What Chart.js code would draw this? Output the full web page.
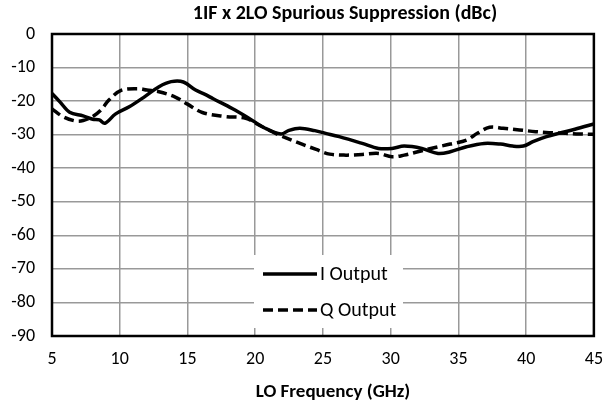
<!DOCTYPE html>
<html>
<head>
<meta charset="utf-8">
<script src="https://cdn.jsdelivr.net/npm/chart.js@4/dist/chart.umd.min.js"></script>
<style>
  html, body { margin: 0; padding: 0; background: #ffffff; }
  #wrap { width: 616px; height: 416px; }
</style>
</head>
<body>
<div id="wrap"><canvas id="c" width="616" height="416"></canvas></div>
<script>
// Labels
const chartTitle = '1IF x 2LO Spurious Suppression (dBc)';
const xAxisTitle = 'LO Frequency (GHz)';
const seriesNames = ['I Output', 'Q Output'];

// Tick values
const xTicks = [5, 10, 15, 20, 25, 30, 35, 40, 45];
const yTicks = [0, -10, -20, -30, -40, -50, -60, -70, -80, -90];

// I output: LO frequency (GHz) and suppression (dBc)
const iFreq  = [5.0, 5.6, 6.3, 7.3, 8.0, 8.5, 8.9, 9.7, 10.7, 11.9, 12.9, 13.8, 14.7, 15.6, 16.3, 16.9,
                18.3, 19.5, 20.7, 21.9, 22.5, 23.3, 24.4, 25.2, 26.2, 27.9, 29.1, 30.1, 31.0, 32.3,
                33.5, 34.4, 35.6, 36.9, 38.1, 39.0, 39.8, 40.5, 41.5, 42.4, 43.6, 45.0];
const iLevel = [-17.7, -20.3, -23.3, -24.4, -25.4, -25.6, -26.6, -23.8, -21.7, -18.5, -15.7, -14.2, -14.3, -16.7, -18.0, -19.3,
                -22.2, -25.0, -28.0, -29.8, -28.7, -28.1, -28.8, -29.6, -30.6, -32.6, -34.1, -34.1, -33.4, -34.1,
                -35.6, -35.1, -33.6, -32.6, -32.8, -33.4, -33.4, -32.1, -30.6, -29.6, -28.4, -26.8];

// Q output: LO frequency (GHz) and suppression (dBc)
const qFreq  = [5.0, 5.8, 6.7, 7.3, 8.0, 8.6, 9.2, 10.1, 11.4, 12.0, 12.9, 14.1, 15.0, 16.1, 17.8, 19.3,
                20.3, 21.5, 22.5, 23.5, 24.5, 25.5, 26.7, 27.9, 29.1, 30.1, 31.0, 32.0, 33.2, 34.4,
                35.6, 36.4, 37.3, 38.3, 39.5, 40.7, 41.7, 42.9, 43.9, 45.0];
const qLevel = [-22.3, -24.6, -25.9, -25.8, -24.6, -22.7, -19.7, -16.8, -16.3, -16.7, -17.2, -18.8, -20.9, -23.4, -24.6, -25.1,
                -27.2, -29.6, -31.3, -32.9, -34.4, -35.8, -36.1, -35.9, -35.6, -36.6, -36.1, -35.1, -33.9, -32.8,
                -31.6, -29.6, -27.8, -28.1, -28.6, -29.1, -29.4, -29.6, -29.8, -29.9];

const FONT = 'Carlito, Lato, "Liberation Sans", sans-serif';

function toPoints(xs, ys) {
  return xs.map((x, i) => ({ x: x, y: ys[i] }));
}

// Title text, axis title, plot frame and in-plot legend
const decorations = {
  id: 'decorations',
  beforeDatasetsDraw(chart) {
    const ctx = chart.ctx;
    ctx.save();
    // legend box sits inside the plot, over the grid
    const bx = 254, by = 255, bw = 149, bh = 73;
    ctx.fillStyle = '#ffffff';
    ctx.fillRect(bx, by, bw, bh);
    chart.data.datasets.forEach((ds, i) => {
      const y = by + 19 + i * 36;
      ctx.strokeStyle = ds.borderColor;
      ctx.lineWidth = ds.borderWidth;
      ctx.setLineDash(ds.borderDash || []);
      ctx.lineCap = 'butt';
      ctx.beginPath();
      ctx.moveTo(bx + 9, y);
      ctx.lineTo(bx + 63, y);
      ctx.stroke();
      ctx.setLineDash([]);
      ctx.fillStyle = '#000000';
      ctx.font = '20px ' + FONT;
      ctx.textAlign = 'left';
      ctx.textBaseline = 'middle';
      ctx.fillText(ds.label, bx + 66, y + 1);
    });
    ctx.restore();
  },
  afterDatasetsDraw(chart) {
    const ctx = chart.ctx;
    const a = chart.chartArea;
    ctx.save();
    ctx.strokeStyle = '#000000';
    ctx.lineWidth = 2.5;
    ctx.strokeRect(a.left, a.top, a.right - a.left, a.bottom - a.top);
    ctx.fillStyle = '#000000';
    ctx.textAlign = 'center';
    ctx.textBaseline = 'middle';
    ctx.font = 'bold 20px ' + FONT;
    ctx.fillText(chartTitle, 345, 14);
    ctx.font = 'bold 19px ' + FONT;
    ctx.fillText(xAxisTitle, 333, 392);
    ctx.restore();
  }
};

new Chart(document.getElementById('c'), {
  type: 'line',
  data: {
    datasets: [
      {
        label: seriesNames[0],
        data: toPoints(iFreq, iLevel),
        borderColor: '#000000',
        borderWidth: 3.5,
        pointRadius: 0,
        tension: 0.35,
        fill: false
      },
      {
        label: seriesNames[1],
        data: toPoints(qFreq, qLevel),
        borderColor: '#000000',
        borderWidth: 3.5,
        borderDash: [10, 5],
        pointRadius: 0,
        tension: 0.35,
        fill: false
      }
    ]
  },
  options: {
    responsive: false,
    animation: false,
    devicePixelRatio: 1,
    layout: { padding: { top: 34, right: 14, bottom: 0, left: 0 } },
    plugins: {
      legend: { display: false },
      title: { display: false },
      tooltip: { enabled: false }
    },
    scales: {
      x: {
        type: 'linear',
        min: 5,
        max: 45,
        afterBuildTicks(scale) { scale.ticks = xTicks.map(v => ({ value: v })); },
        afterFit(scale) { scale.height = 80; },
        grid: { color: '#999999', lineWidth: 1.5, drawTicks: false },
        border: { display: false },
        ticks: { color: '#000000', padding: 13, maxRotation: 0, font: { family: FONT, size: 18 } }
      },
      y: {
        type: 'linear',
        min: -90,
        max: 0,
        afterBuildTicks(scale) { scale.ticks = yTicks.map(v => ({ value: v })); },
        afterFit(scale) { scale.width = 52; },
        grid: { color: '#999999', lineWidth: 1.5, drawTicks: false },
        border: { display: false },
        ticks: { color: '#000000', padding: 17, font: { family: FONT, size: 18 } }
      }
    }
  },
  plugins: [decorations]
});
</script>
</body>
</html>
